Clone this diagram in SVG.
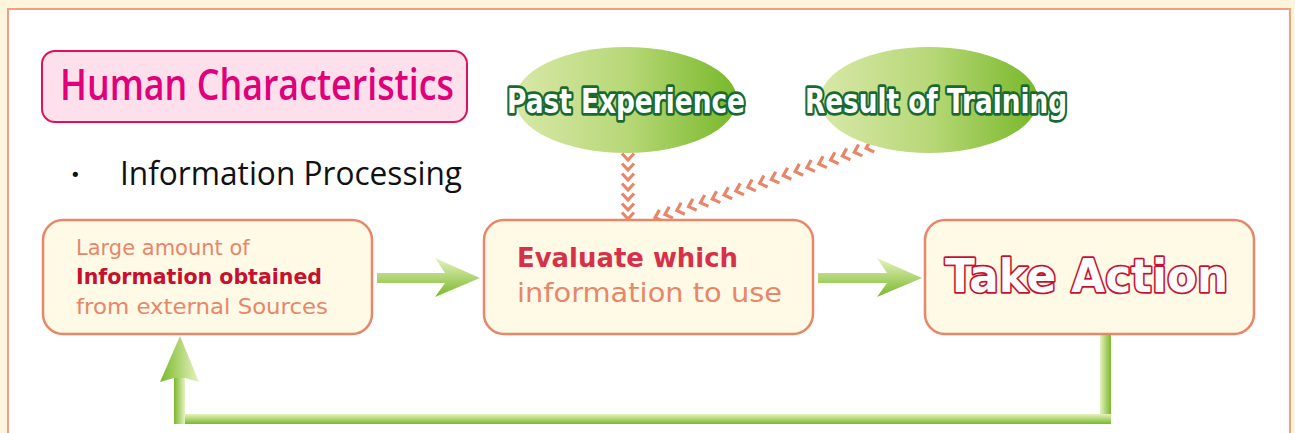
<svg xmlns="http://www.w3.org/2000/svg" width="1295" height="433" viewBox="0 0 1295 433">
<style>
.box{fill:#fefae6;stroke:#e8866a;stroke-width:2.5}
.sal{font-family:"DejaVu Sans",Verdana,sans-serif;fill:#e8866a}
.chev{fill:none;stroke:#e8866a;stroke-width:3.2}
.ell{font-family:"DejaVu Sans","Liberation Sans",sans-serif;font-weight:bold;fill:#fff;stroke:#1a6a30;stroke-width:5.5;paint-order:stroke;stroke-linejoin:round}
</style>
<defs>
<linearGradient id="ellG" x1="0" y1="0" x2="1" y2="0">
<stop offset="0" stop-color="#d8e8a8"/><stop offset="0.5" stop-color="#b8d878"/><stop offset="1" stop-color="#78b82a"/>
</linearGradient>
<linearGradient id="gV" x1="0" y1="0" x2="0" y2="1">
<stop offset="0" stop-color="#e6f2c0"/><stop offset="1" stop-color="#7ab82a"/>
</linearGradient>
<linearGradient id="gHL" x1="0" y1="0" x2="1" y2="0">
<stop offset="0" stop-color="#e6f2c0"/><stop offset="1" stop-color="#7ab82a"/>
</linearGradient>
<linearGradient id="gHR" x1="0" y1="0" x2="1" y2="0">
<stop offset="0" stop-color="#7ab82a"/><stop offset="1" stop-color="#e6f2c0"/>
</linearGradient>
<path id="chev" class="chev" d="M-4.5,-6 L2,0 L-4.5,6"/>
</defs>
<rect x="0" y="0" width="1295" height="433" fill="#fff5dd"/>
<rect x="8" y="9" width="1282" height="440" fill="#ffffff" stroke="#f0a080" stroke-width="2"/>

<g id="title">
<rect x="42" y="51" width="425" height="71" rx="13" fill="#fde0ec" stroke="#e0105a" stroke-width="2"/>
<text x="60" y="100" font-family="Open Sans, Liberation Sans, sans-serif" font-weight="600" font-size="44" fill="#e0007a" textLength="394" lengthAdjust="spacingAndGlyphs">Human Characteristics</text>
</g>
<g id="subtitle">
<text x="70" y="181" font-family="DejaVu Sans, sans-serif" font-size="18" fill="#111">•</text>
<text x="120" y="185" font-family="Open Sans, DejaVu Sans, sans-serif" font-size="32" fill="#111" textLength="342" lengthAdjust="spacingAndGlyphs">Information Processing</text>
</g>

<g id="connectors">
<g id="chev-past">
<use href="#chev" transform="translate(628,158) rotate(90)"/>
<use href="#chev" transform="translate(628,168) rotate(90)"/>
<use href="#chev" transform="translate(628,178) rotate(90)"/>
<use href="#chev" transform="translate(628,188) rotate(90)"/>
<use href="#chev" transform="translate(628,198) rotate(90)"/>
<use href="#chev" transform="translate(628,208) rotate(90)"/>
<use href="#chev" transform="translate(628,217) rotate(90)"/>
</g>
<g id="chev-training">
<use href="#chev" transform="translate(868,147.7) rotate(161.8)"/>
<use href="#chev" transform="translate(856.2,151.6) rotate(161.8)"/>
<use href="#chev" transform="translate(844.3,155.5) rotate(161.8)"/>
<use href="#chev" transform="translate(832.5,159.4) rotate(161.8)"/>
<use href="#chev" transform="translate(820.7,163.3) rotate(161.8)"/>
<use href="#chev" transform="translate(808.8,167.1) rotate(161.8)"/>
<use href="#chev" transform="translate(797,171) rotate(161.8)"/>
<use href="#chev" transform="translate(785.2,174.9) rotate(161.8)"/>
<use href="#chev" transform="translate(773.3,178.8) rotate(161.8)"/>
<use href="#chev" transform="translate(761.5,182.7) rotate(161.8)"/>
<use href="#chev" transform="translate(749.7,186.6) rotate(161.8)"/>
<use href="#chev" transform="translate(737.8,190.5) rotate(161.8)"/>
<use href="#chev" transform="translate(726,194.4) rotate(161.8)"/>
<use href="#chev" transform="translate(714.2,198.3) rotate(161.8)"/>
<use href="#chev" transform="translate(702.3,202.1) rotate(161.8)"/>
<use href="#chev" transform="translate(690.5,206) rotate(161.8)"/>
<use href="#chev" transform="translate(678.7,209.9) rotate(161.8)"/>
<use href="#chev" transform="translate(666.8,213.8) rotate(161.8)"/>
<use href="#chev" transform="translate(657,217) rotate(161.8)"/>
</g>
<polygon id="arrow1" fill="url(#gV)" points="377,273 445,273 435,258 480,278 435,297 445,283 377,283"/>
<polygon id="arrow2" fill="url(#gV)" points="818,273 887,273 877,258 922,278 877,297 887,283 818,283"/>
<g id="feedback">
<rect x="1100" y="334" width="11" height="90" fill="url(#gHL)"/>
<rect x="174" y="414" width="937" height="10" fill="url(#gV)"/>
<rect x="174" y="378" width="11" height="46" fill="url(#gHR)"/>
<polygon points="160,382 180,336 199,382 185,378 174,378" fill="url(#gHR)"/>
</g>
</g>

<g id="past">
<ellipse cx="626" cy="100" rx="111" ry="53" fill="url(#ellG)"/>
<text class="ell" x="507" y="113" font-size="34" textLength="238" lengthAdjust="spacingAndGlyphs">Past Experience</text>
</g>
<g id="training">
<ellipse cx="929" cy="100" rx="109" ry="53" fill="url(#ellG)"/>
<text class="ell" x="805" y="113" font-size="34" textLength="262" lengthAdjust="spacingAndGlyphs">Result of Training</text>
</g>

<g id="info">
<rect class="box" x="43" y="220" width="329" height="114" rx="20"/>
<text class="sal" x="76" y="255" font-size="21">Large amount of</text>
<text x="76" y="284" font-family="DejaVu Sans, sans-serif" font-size="21" font-weight="bold" fill="#c8102e" textLength="246" lengthAdjust="spacingAndGlyphs">Information obtained</text>
<text class="sal" x="76" y="314" font-size="21" textLength="252" lengthAdjust="spacingAndGlyphs">from external Sources</text>
</g>
<g id="evaluate">
<rect class="box" x="484" y="220" width="329" height="114" rx="20"/>
<text x="517" y="267" font-family="DejaVu Sans, sans-serif" font-size="27" font-weight="bold" fill="#d9304a" textLength="221" lengthAdjust="spacingAndGlyphs">Evaluate which</text>
<text class="sal" x="517" y="302" font-size="26" textLength="265" lengthAdjust="spacingAndGlyphs">information to use</text>
</g>
<g id="action">
<rect class="box" x="925" y="220" width="329" height="114" rx="20"/>
<text x="945" y="292" font-family="DejaVu Sans, sans-serif" font-size="47" font-weight="bold" fill="#ffffff" stroke="#c8102e" stroke-width="3.5" paint-order="stroke" stroke-linejoin="round" textLength="283" lengthAdjust="spacingAndGlyphs">Take Action</text>
</g>
</svg>
